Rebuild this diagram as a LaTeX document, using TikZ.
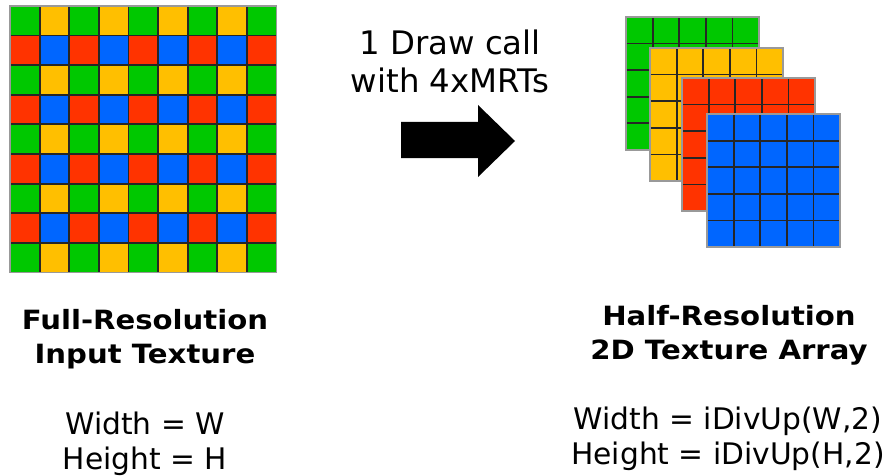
\documentclass[tikz,border=0pt]{standalone}
\usepackage{fontspec}
\setmainfont{DejaVu Sans}
\newfontfamily\widebold{DejaVu Sans Bold}[FakeStretch=1.1]
\usepackage{xcolor}
\definecolor{tgreen}{RGB}{0,200,0}
\definecolor{tyellow}{RGB}{255,191,0}
\definecolor{tred}{RGB}{255,51,0}
\definecolor{tblue}{RGB}{0,102,255}

\begin{document}
\begin{tikzpicture}[x=1pt,y=-1pt,every node/.style={inner sep=0pt},
  cellline/.style={black!85,line width=1.8pt},
  title/.style={font=\fontsize{26.5}{34}\widebold,align=center},
  dims/.style={font=\fontsize{29.7}{35}\selectfont,align=center}]
 \useasboundingbox (0,0) rectangle (888,476);
 % full resolution input, 9x9 cells
 \begin{scope}[shift={(10,6)},x=29.6pt,y=-29.6pt]
  \fill[tgreen] (0,0) rectangle (9,9);
  \foreach \r in {0,2,...,8}{
   \foreach \c in {1,3,...,7}{
    \fill[tyellow] (\c,\r) rectangle +(1,1);
   }
  }
  \foreach \r in {1,3,...,7}{
   \foreach \c in {0,2,...,8}{
    \fill[tred] (\c,\r) rectangle +(1,1);
   }
   \foreach \c in {1,3,...,7}{
    \fill[tblue] (\c,\r) rectangle +(1,1);
   }
  }
  \foreach \k in {1,...,8}{
   \draw[cellline] (\k,0)--(\k,9) (0,\k)--(9,\k);
  }
  \draw[gray!80,line width=1.2pt] (0,0) rectangle (9,9);
 \end{scope}
 % half resolution slices, 5x5 cells
 \foreach \x/\y/\col in {626/17/tgreen,650/48/tyellow,682/78/tred,707/114/tblue}{
  \begin{scope}[shift={(\x,\y)},x=26.6pt,y=-26.6pt]
   \fill[\col] (0,0) rectangle (5,5);
   \foreach \k in {1,...,4}{
    \draw[cellline] (\k,0)--(\k,5) (0,\k)--(5,\k);
   }
   \draw[gray!80,line width=1.2pt] (0,0) rectangle (5,5);
  \end{scope}
 }
 % arrow
 \fill (401,122)--(478,122)--(478,105)--(515,141)--(478,177)--(478,158)--(401,158)--cycle;
 \node[font=\fontsize{32.4}{38}\selectfont,align=center] (drawcall) at (450,61) {1 Draw call\\with 4xMRTs};
 \node[title] (fulltitle) at (145,339) {Full-Resolution\\Input Texture};
 \node[dims] (fulldims) at (145,444) {Width = W\\Height = H};
 \node[title] (halftitle) at (729,335) {Half-Resolution\\2D Texture Array};
 \node[dims] (halfdims) at (728,439) {Width = iDivUp(W,2)\\Height = iDivUp(H,2)};
\end{tikzpicture}
\end{document}
